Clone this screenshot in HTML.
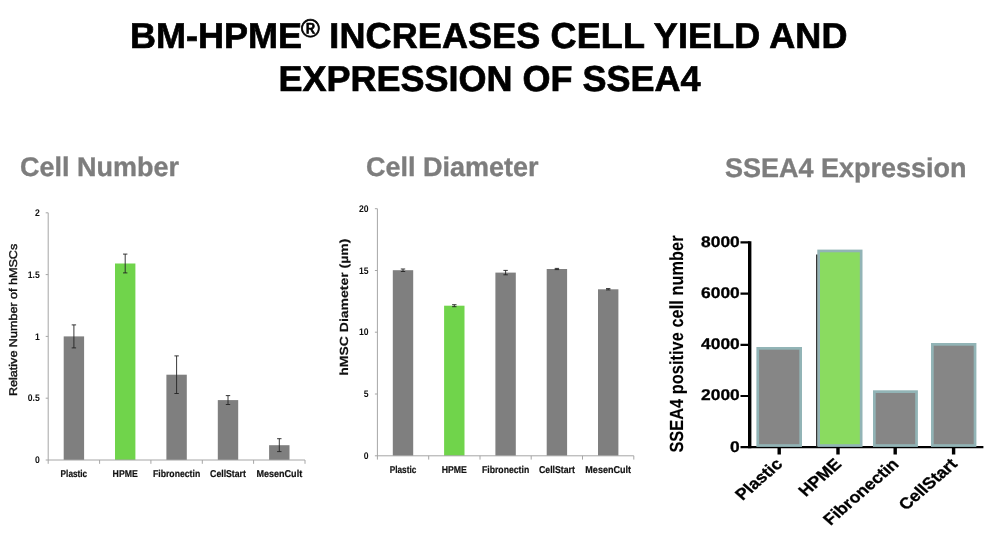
<!DOCTYPE html>
<html><head><meta charset="utf-8"><title>BM-HPME increases cell yield and expression of SSEA4</title>
<style>
html,body{margin:0;padding:0;background:#fff;}
body{width:1001px;height:546px;overflow:hidden;position:relative;font-family:"Liberation Sans",Arial,sans-serif;}
svg{position:absolute;left:0;top:0;display:block}
text{font-family:"Liberation Sans",Arial,sans-serif;text-rendering:geometricPrecision}
.t{font-weight:bold;font-size:36px;fill:#000;stroke:#000;stroke-width:0.7px}
.h{font-weight:bold;font-size:27px;fill:#7d7d7d;stroke:#7d7d7d;stroke-width:0.35px}
.c{font-weight:bold;font-size:9.9px;fill:#111;stroke:#111;stroke-width:0.2px}
.n{font-weight:bold;font-size:9.6px;fill:#111}
.b3{font-weight:bold;font-size:15.8px;fill:#000;stroke:#000;stroke-width:0.3px}
</style></head><body>
<svg width="1001" height="546" viewBox="0 0 1001 546">
<rect width="1001" height="546" fill="#fff"/>

<text class="t" x="130" y="47.8">BM-HPME<tspan font-size="25.5" dy="-10.5" dx="-1" style="font-weight:normal;stroke-width:0.75px">®</tspan></text>
<text class="t" x="847.6" y="47.8" text-anchor="end" letter-spacing="0.12">INCREASES CELL YIELD AND</text>
<text class="t" x="489.5" y="90.8" text-anchor="middle">EXPRESSION OF SSEA4</text>
<text class="h" x="20" y="175.5">Cell Number</text>
<text class="h" x="366" y="175.5">Cell Diameter</text>
<text class="h" x="725" y="177">SSEA4 Expression</text>
<rect x="63.7" y="336.4" width="20.4" height="123.6" fill="#7f7f7f"/>
<path d="M73.9 324.9V347.9M71.7 324.9h4.4M71.7 347.9h4.4" stroke="#222" stroke-width="0.9" fill="none"/>
<rect x="115.0" y="263.5" width="20.4" height="196.5" fill="#70d44b"/>
<path d="M125.2 254.1V272.9M123.0 254.1h4.4M123.0 272.9h4.4" stroke="#222" stroke-width="0.9" fill="none"/>
<rect x="166.4" y="374.7" width="20.4" height="85.3" fill="#7f7f7f"/>
<path d="M176.6 355.9V393.5M174.4 355.9h4.4M174.4 393.5h4.4" stroke="#222" stroke-width="0.9" fill="none"/>
<rect x="217.8" y="400.1" width="20.4" height="59.9" fill="#7f7f7f"/>
<path d="M228.0 395.6V404.5M225.8 395.6h4.4M225.8 404.5h4.4" stroke="#222" stroke-width="0.9" fill="none"/>
<rect x="269.1" y="445.2" width="20.4" height="14.8" fill="#7f7f7f"/>
<path d="M279.3 438.7V451.6M277.1 438.7h4.4M277.1 451.6h4.4" stroke="#222" stroke-width="0.9" fill="none"/>
<path d="M48.2 212.8V463.8M45.7 460H305.0M99.6 460v3.8M150.9 460v3.8M202.3 460v3.8M253.6 460v3.8M305.0 460v3.8M45.7 398.2h2.5M45.7 336.4h2.5M45.7 274.6h2.5M45.7 212.8h2.5" stroke="#a6a6a6" stroke-width="1" fill="none"/>
<text class="n" transform="translate(39.8,463.1) scale(0.9,1)" text-anchor="end">0</text>
<text class="n" transform="translate(39.8,401.3) scale(0.9,1)" text-anchor="end">0.5</text>
<text class="n" transform="translate(39.8,339.5) scale(0.9,1)" text-anchor="end">1</text>
<text class="n" transform="translate(39.8,277.7) scale(0.9,1)" text-anchor="end">1.5</text>
<text class="n" transform="translate(39.8,215.9) scale(0.9,1)" text-anchor="end">2</text>
<text class="c" x="60.6" y="476.7" textLength="26.6" lengthAdjust="spacingAndGlyphs">Plastic</text>
<text class="c" x="112.6" y="476.7" textLength="25.2" lengthAdjust="spacingAndGlyphs">HPME</text>
<text class="c" x="153.0" y="476.7" textLength="47.2" lengthAdjust="spacingAndGlyphs">Fibronectin</text>
<text class="c" x="210.1" y="476.7" textLength="35.8" lengthAdjust="spacingAndGlyphs">CellStart</text>
<text class="c" x="256.4" y="476.7" textLength="45.8" lengthAdjust="spacingAndGlyphs">MesenCult</text>
<text transform="translate(16.6,396) rotate(-90)" font-size="11.2" font-weight="normal" fill="#111" stroke="#111" stroke-width="0.4" textLength="152.2" lengthAdjust="spacingAndGlyphs">Relative Number of hMSCs</text>
<rect x="392.8" y="270.2" width="20.4" height="185.6" fill="#7f7f7f"/>
<path d="M403.0 269.0V271.5M400.8 269.0h4.4M400.8 271.5h4.4" stroke="#222" stroke-width="0.9" fill="none"/>
<rect x="444.1" y="305.7" width="20.4" height="150.1" fill="#70d44b"/>
<path d="M454.3 304.7V306.7M452.1 304.7h4.4M452.1 306.7h4.4" stroke="#222" stroke-width="0.9" fill="none"/>
<rect x="495.4" y="272.6" width="20.4" height="183.2" fill="#7f7f7f"/>
<path d="M505.6 270.4V274.8M503.4 270.4h4.4M503.4 274.8h4.4" stroke="#222" stroke-width="0.9" fill="none"/>
<rect x="546.7" y="269.0" width="20.4" height="186.8" fill="#7f7f7f"/>
<path d="M556.9 268.4V269.6M554.7 268.4h4.4M554.7 269.6h4.4" stroke="#222" stroke-width="0.9" fill="none"/>
<rect x="598.0" y="289.3" width="20.4" height="166.5" fill="#7f7f7f"/>
<path d="M608.2 288.6V289.9M606.0 288.6h4.4M606.0 289.9h4.4" stroke="#222" stroke-width="0.9" fill="none"/>
<path d="M377.4 208.7V459.6M374.9 455.8H633.8M428.7 455.8v3.8M480.0 455.8v3.8M531.2 455.8v3.8M582.5 455.8v3.8M633.8 455.8v3.8M374.9 394.0h2.5M374.9 332.2h2.5M374.9 270.5h2.5M374.9 208.7h2.5" stroke="#a6a6a6" stroke-width="1" fill="none"/>
<text class="n" transform="translate(368.5,458.9) scale(0.9,1)" text-anchor="end">0</text>
<text class="n" transform="translate(368.5,397.1) scale(0.9,1)" text-anchor="end">5</text>
<text class="n" transform="translate(368.5,335.4) scale(0.9,1)" text-anchor="end">10</text>
<text class="n" transform="translate(368.5,273.6) scale(0.9,1)" text-anchor="end">15</text>
<text class="n" transform="translate(368.5,211.8) scale(0.9,1)" text-anchor="end">20</text>
<text class="c" x="389.7" y="472.9" textLength="26.6" lengthAdjust="spacingAndGlyphs">Plastic</text>
<text class="c" x="441.7" y="472.9" textLength="25.2" lengthAdjust="spacingAndGlyphs">HPME</text>
<text class="c" x="482.0" y="472.9" textLength="47.2" lengthAdjust="spacingAndGlyphs">Fibronectin</text>
<text class="c" x="539.0" y="472.9" textLength="35.8" lengthAdjust="spacingAndGlyphs">CellStart</text>
<text class="c" x="585.3" y="472.9" textLength="45.8" lengthAdjust="spacingAndGlyphs">MesenCult</text>
<text transform="translate(348.0,375.7) rotate(-90)" font-size="11.8" font-weight="bold" fill="#111" stroke="#111" stroke-width="0.15" textLength="137" lengthAdjust="spacingAndGlyphs">hMSC Diameter (µm)</text>
<path d="M740.5 447.2H749.7M740.5 396.0H749.7M740.5 344.8H749.7M740.5 293.6H749.7M740.5 242.4H749.7M748.1 447.2H983.4" stroke="#000" stroke-width="2.2" fill="none"/>
<path d="M749.7 241.3V448.3M779.2 447.2V454.6M838 447.2V454.6M895.2 447.2V454.6M953.6 447.2V454.6" stroke="#000" stroke-width="3.4" fill="none"/>
<rect x="757.75" y="348.35" width="42.90" height="97.20" fill="#868686" stroke="#92b4b6" stroke-width="2.7"/>
<rect x="818.65" y="250.95" width="42.50" height="194.60" fill="#8adb60" stroke="#92b4b6" stroke-width="2.7"/>
<rect x="874.35" y="391.65" width="42.20" height="53.90" fill="#868686" stroke="#92b4b6" stroke-width="2.7"/>
<rect x="932.35" y="344.35" width="42.70" height="101.20" fill="#868686" stroke="#92b4b6" stroke-width="2.7"/>
<path d="M816.7 254.5V446.9" stroke="#222" stroke-width="1.2"/>
<text class="b3" style="font-size:15.5px" transform="translate(739.7,451.6) scale(1.12,1)" text-anchor="end">0</text>
<text class="b3" style="font-size:15.5px" transform="translate(739.7,400.4) scale(1.12,1)" text-anchor="end">2000</text>
<text class="b3" style="font-size:15.5px" transform="translate(739.7,349.2) scale(1.12,1)" text-anchor="end">4000</text>
<text class="b3" style="font-size:15.5px" transform="translate(739.7,298.0) scale(1.12,1)" text-anchor="end">6000</text>
<text class="b3" style="font-size:15.5px" transform="translate(739.7,246.8) scale(1.12,1)" text-anchor="end">8000</text>
<text class="b3" transform="translate(783.5,465.1) scale(1.14,1) rotate(-45)" text-anchor="end">Plastic</text>
<text class="b3" transform="translate(842.5,465.1) scale(1.14,1) rotate(-45)" text-anchor="end">HPME</text>
<text class="b3" transform="translate(899.8,465.1) scale(1.14,1) rotate(-45)" text-anchor="end">Fibronectin</text>
<text class="b3" transform="translate(958.3,465.1) scale(1.14,1) rotate(-45)" text-anchor="end">CellStart</text>
<text transform="translate(682.9,452.6) scale(1.165,1) rotate(-90)" font-size="16.3" font-weight="bold" fill="#000" stroke="#000" stroke-width="0.1" textLength="217.2" lengthAdjust="spacing">SSEA4 positive cell number</text>
</svg></body></html>
